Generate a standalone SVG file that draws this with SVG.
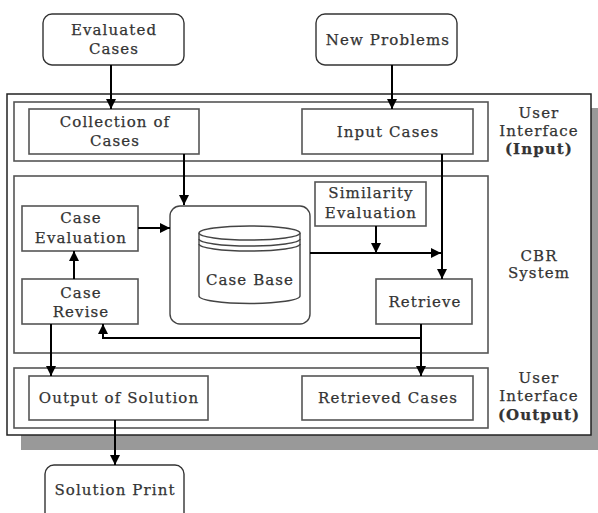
<svg xmlns="http://www.w3.org/2000/svg" width="598" height="513" viewBox="0 0 598 513">
<style>
text{font-family:"DejaVu Serif","Liberation Serif",serif;font-size:15px;fill:#333;stroke:#333;stroke-width:0.25;letter-spacing:1.1px;text-anchor:middle}
.b{font-weight:bold}
.box{fill:#fff;stroke:#555;stroke-width:1.6}
.sec{fill:none;stroke:#555;stroke-width:1.6}
.term{fill:#fff;stroke:#333;stroke-width:1.4}
.c{fill:none;stroke:#000;stroke-width:2}
</style>
<defs>
<marker id="ah" viewBox="0 0 10 10" refX="10" refY="5" markerWidth="10" markerHeight="10" markerUnits="userSpaceOnUse" orient="auto">
<path d="M0,0 L10,5 L0,10 z" fill="#000"/>
</marker>
</defs>
<rect x="21" y="108" width="577" height="342" fill="#999"/>
<rect id="frame" x="7" y="94" width="584" height="341" fill="#fff" stroke="#222" stroke-width="1.5"/>
<g id="sections">
<rect class="sec" x="14" y="102" width="474" height="59"/>
<rect class="sec" x="14" y="176" width="474" height="177"/>
<rect class="sec" x="14" y="368" width="474" height="60"/>
</g>
<g id="evaluated-cases"><rect class="term" x="43" y="14" width="141" height="51" rx="9"/><text x="114" y="35">Evaluated</text><text x="114" y="54">Cases</text></g>
<g id="new-problems"><rect class="term" x="316" y="14" width="141" height="51" rx="9"/><text x="388" y="45">New Problems</text></g>
<g id="collection"><rect class="box" x="29" y="109" width="170" height="45"/><text x="115" y="127">Collection of</text><text x="115" y="146">Cases</text></g>
<g id="input-cases"><rect class="box" x="302" y="109" width="171" height="45"/><text x="388" y="137">Input Cases</text></g>
<g id="ui-input"><text x="539" y="118">User</text><text x="539" y="136">Interface</text><text class="b" x="539" y="154">(Input)</text></g>
<g id="case-evaluation"><rect class="box" x="22" y="206" width="116" height="45"/><text x="81" y="223">Case</text><text x="81" y="243">Evaluation</text></g>
<g id="case-revise"><rect class="box" x="22" y="279" width="116" height="45"/><text x="81" y="298">Case</text><text x="81" y="317">Revise</text></g>
<g id="case-base">
<rect fill="#fff" stroke="#444" stroke-width="1.4" x="170" y="206" width="140" height="118" rx="10"/>
<path d="M199,233 V296 A50.5,7.5 0 0 0 300,296 V233" fill="#fff" stroke="#444" stroke-width="1.4"/>
<ellipse cx="249.5" cy="233" rx="50.5" ry="7" fill="#fff" stroke="#444" stroke-width="1.4"/>
<path d="M199,239 A50.5,7 0 0 0 300,239 M199,244 A50.5,7 0 0 0 300,244" fill="none" stroke="#444" stroke-width="1.4"/>
<text x="250" y="285">Case Base</text>
</g>
<g id="similarity"><rect class="box" x="315" y="182" width="111" height="44"/><text x="371" y="198">Similarity</text><text x="371" y="218">Evaluation</text></g>
<g id="retrieve"><rect class="box" x="376" y="279" width="96" height="45"/><text x="425" y="307">Retrieve</text></g>
<g id="cbr-label"><text x="539" y="261">CBR</text><text x="539" y="278">System</text></g>
<g id="output-solution"><rect class="box" x="29" y="376" width="179" height="44"/><text x="119" y="403">Output of Solution</text></g>
<g id="retrieved-cases"><rect class="box" x="302" y="376" width="171" height="44"/><text x="388" y="403">Retrieved Cases</text></g>
<g id="ui-output"><text x="539" y="383">User</text><text x="539" y="401">Interface</text><text class="b" x="539" y="420">(Output)</text></g>
<g id="solution-print"><rect class="term" x="45" y="465" width="139" height="60" rx="9"/><text x="115" y="495">Solution Print</text></g>
<g id="connectors">
<path class="c" d="M111,65 V109" marker-end="url(#ah)"/>
<path class="c" d="M392,65 V109" marker-end="url(#ah)"/>
<path class="c" d="M184,154 V205" marker-end="url(#ah)"/>
<path class="c" d="M442,154 V279" marker-end="url(#ah)"/>
<path class="c" d="M310,253 H441" marker-end="url(#ah)"/>
<path class="c" d="M376,226 V253" marker-end="url(#ah)"/>
<path class="c" d="M138,228 H170" marker-end="url(#ah)"/>
<path class="c" d="M74,279 V251" marker-end="url(#ah)"/>
<path class="c" d="M421,324 V376" marker-end="url(#ah)"/>
<path class="c" d="M421,338 H103 V324" marker-end="url(#ah)"/>
<path class="c" d="M51,324 V376" marker-end="url(#ah)"/>
<path class="c" d="M115,420 V465" marker-end="url(#ah)"/>
</g>
</svg>
